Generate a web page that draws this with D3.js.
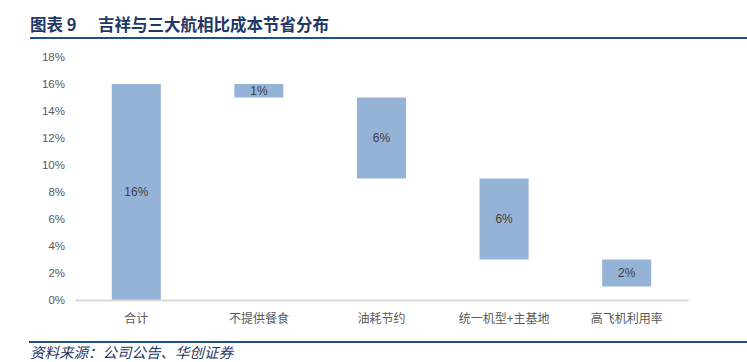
<!DOCTYPE html>
<html><head><meta charset="utf-8">
<script src="https://cdn.jsdelivr.net/npm/d3@7"></script>
<style>
body{margin:0;background:#fff;}
svg{display:block;}
</style></head>
<body>
<svg id="c" width="747" height="362"></svg>
<script>
const categories = ["合计","不提供餐食","油耗节约","统一机型+主基地","高飞机利用率"];
const savings = [16, 1, 6, 6, 2];        // 成本节省 (%)
const barLabels = ["16%","1%","6%","6%","2%"];
const yTicks = [0,2,4,6,8,10,12,14,16,18];
const titleText = "图表 9";
const titleSub = "吉祥与三大航相比成本节省分布";
const sourceText = "资料来源：公司公告、华创证券";

// waterfall: first is total, rest step down from total
const bars = [];
let level = savings[0];
bars.push({cat:categories[0], y0:0, y1:savings[0], label:barLabels[0]});
for (let i=1;i<categories.length;i++){
  bars.push({cat:categories[i], y0:level-savings[i], y1:level, label:barLabels[i]});
  level -= savings[i];
}

const svg = d3.select("#c");
const font = "'Helvetica Neue', 'Liberation Sans', 'Noto Sans CJK SC', sans-serif";

const x = d3.scaleBand().domain(categories).range([75,688]).paddingInner(0.6).paddingOuter(0.3);
const y = d3.scaleLinear().domain([0,18]).range([300,57]);

// Title
svg.append("text").attr("x",30).attr("y",31)
  .attr("font-family","'Noto Sans CJK SC', sans-serif").attr("font-weight","bold")
  .attr("font-size",16.5).attr("fill","#1F3864").text(titleText);
svg.append("text").attr("x",98).attr("y",31)
  .attr("font-family","'Noto Sans CJK SC', sans-serif").attr("font-weight","bold")
  .attr("font-size",16.5).attr("fill","#1F3864").text(titleSub);
svg.append("rect").attr("x",30).attr("y",37).attr("width",717).attr("height",2).attr("fill","#1F4E8C");

// y axis labels
const yAxis = d3.axisLeft(y).tickValues(yTicks).tickFormat(d=>d+"%").tickSize(0).tickPadding(0);
const ga = svg.append("g").attr("transform","translate(65,0)").call(yAxis);
ga.select(".domain").remove();
ga.selectAll("text").attr("font-family",font).attr("font-size",11.5).attr("fill","#595959");

// bars
svg.selectAll("rect.bar").data(bars).join("rect").attr("class","bar")
  .attr("x",d=>x(d.cat)).attr("width",x.bandwidth())
  .attr("y",d=>y(d.y1)).attr("height",d=>y(d.y0)-y(d.y1))
  .attr("fill","#95B3D7");

svg.selectAll("text.bl").data(bars).join("text").attr("class","bl")
  .attr("x",d=>x(d.cat)+x.bandwidth()/2).attr("y",d=>(y(d.y0)+y(d.y1))/2)
  .attr("dy","0.35em").attr("text-anchor","middle")
  .attr("font-family",font).attr("font-size",12).attr("fill","#404040")
  .text(d=>d.label);

// x axis
const xAxis = d3.axisBottom(x).tickSize(0).tickPadding(14);
const gx = svg.append("g").attr("transform","translate(0,300)").call(xAxis);
gx.select(".domain").attr("stroke","#D9D9D9").attr("stroke-width",2);
gx.selectAll("text").attr("font-family","'Noto Sans CJK SC', sans-serif").attr("font-size",12).attr("fill","#595959");

// footer
svg.append("rect").attr("x",29).attr("y",341).attr("width",718).attr("height",2).attr("fill","#1F4E8C");
svg.append("text").attr("x",30).attr("y",358)
  .attr("font-family","'Noto Sans CJK SC', sans-serif").attr("font-style","italic")
  .attr("font-size",14.5).attr("fill","#1F3864").text(sourceText);
</script>
</body></html>
